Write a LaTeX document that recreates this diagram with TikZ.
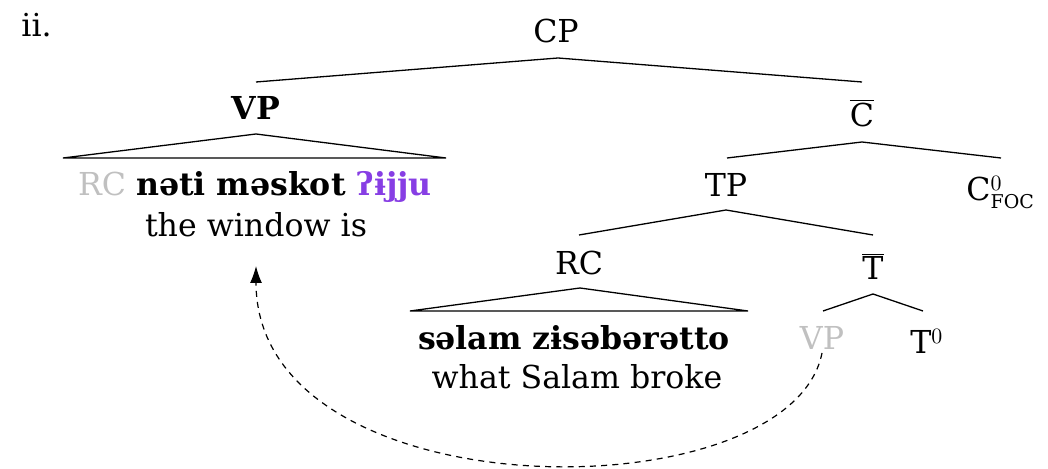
\documentclass[tikz,border=0pt]{standalone}
\usepackage{fontspec}
\setmainfont{DejaVu Serif}
\usetikzlibrary{arrows.meta}
\definecolor{lightg}{RGB}{192,192,192}
\definecolor{violetx}{RGB}{135,62,228}
\tikzset{
  lab/.style={inner sep=0pt, anchor=base, font=\fontsize{15.8}{19}\selectfont},
  labw/.style={lab, anchor=base west},
  branch/.style={line width=0.65pt},
  movearrow/.style={line width=0.6pt, dash pattern=on 3pt off 2.6pt, -{Latex[length=8.5pt,width=6pt]}}
}
\begin{document}
\begin{tikzpicture}[x=0.5pt,y=-0.5pt]
\useasboundingbox (0,0) rectangle (1048,469);
% labels
\node[labw] (ii) at (21,37) {ii.};
\node[lab] (cp) at (556,43) {CP};
\node[lab] (vp) at (256,120) {\bfseries VP};
\node[lab] (cbar) at (862,127) {$\overline{\mbox{C}}$};
\node[lab] (tp) at (726,197) {TP};
\node[labw] (cfoc) at (966,201) {C$^{0}_{\mbox{\fontsize{9.5}{10}\selectfont FOC}}$};
\node[lab] (rc) at (579,275) {RC};
\node[lab] (tbar) at (873,280) {$\overline{\mbox{T}}$};
\node[lab] (vpg) at (822,350) {\color{lightg}VP};
\node[labw] (t0) at (910,354) {T$^{0}$};
\node[lab] (la) at (255,196) {{\color{lightg}RC} \bfseries nəti məskot {\color{violetx}ʔɨjju}};
\node[lab] (lb) at (256,237) {the window is};
\node[lab] (ra) at (574,350) {\bfseries səlam zɨsəbərətto};
\node[lab] (rb) at (577,389) {what Salam broke};
% branch points
\coordinate (cpB) at (558,58);
\coordinate (vpT) at (256,82);
\coordinate (cbT) at (862,82);
\coordinate (vpB) at (256,134);
\coordinate (vpL) at (63,158);
\coordinate (vpR) at (446,158);
\coordinate (cbB) at (862,142);
\coordinate (tpT) at (727,158);
\coordinate (cfT) at (1001,158);
\coordinate (tpB) at (726,210);
\coordinate (rcT) at (579,235);
\coordinate (tbT) at (873,235);
\coordinate (rcB) at (580,288);
\coordinate (rcL) at (410,311);
\coordinate (rcR) at (748,311);
\coordinate (tbB) at (873,294);
\coordinate (vgT) at (823,311);
\coordinate (t0T) at (923,311);
\coordinate (vgB) at (822,353);
\coordinate (lbT) at (256,266);
% tree
\draw[branch] (vpT) -- (cpB) -- (cbT);
\draw[branch] (vpL) -- (vpB) -- (vpR) -- cycle;
\draw[branch] (tpT) -- (cbB) -- (cfT);
\draw[branch] (rcT) -- (tpB) -- (tbT);
\draw[branch] (rcL) -- (rcB) -- (rcR) -- cycle;
\draw[branch] (vgT) -- (tbB) -- (t0T);
% movement arrow
\draw[movearrow] (vgB) .. controls (790,515) and (256,515) .. (lbT);
\end{tikzpicture}
\end{document}
